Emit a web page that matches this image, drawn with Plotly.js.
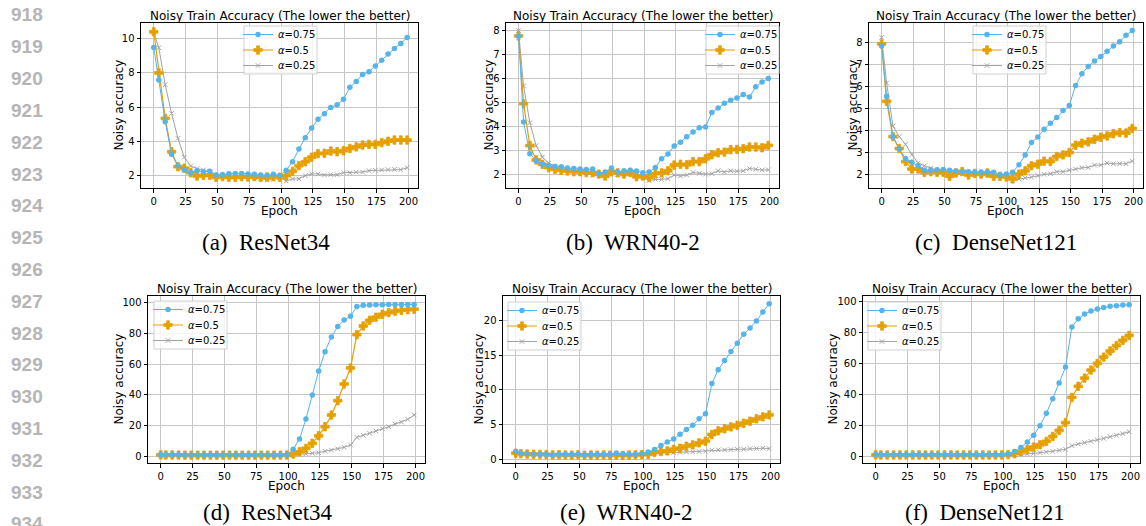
<!DOCTYPE html>
<html><head><meta charset="utf-8">
<script src="https://cdn.plot.ly/plotly-3.0.1.min.js"></script>
<style>html,body{margin:0;padding:0;background:#fff;} #chart{width:1146px;height:526px;}</style>
</head><body><div id="chart"></div>
<script>
// ---------- data ----------
const EPOCHS = [0,4,9,14,19,24,29,34,39,44,49,54,59,64,69,74,79,84,89,94,99,104,109,114,119,124,129,134,139,144,149,154,159,164,169,174,179,184,189,194,199];
const X_TICKS = [0,25,50,75,100,125,150,175,200];
const SERIES_NAMES = ['<i>α</i>=0.75','<i>α</i>=0.5','<i>α</i>=0.25'];
const PANEL_TITLE = 'Noisy Train Accuracy (The lower the better)';
const CAPTIONS = ['(a)  ResNet34','(b)  WRN40-2','(c)  DenseNet121','(d)  ResNet34','(e)  WRN40-2','(f)  DenseNet121'];
const LINE_NUMBERS = ['918','919','920','921','922','923','924','925','926','927','928','929','930','931','932','933','934'];

// (a) ResNet34, top row
const resnet34Top_a075 = [9.48,7.58,5.16,3.26,2.6,2.35,2.2,2.3,2.25,2.28,2.05,2.07,2.13,2.15,2.15,2.12,2.1,2.06,2.02,2.1,2.02,2.33,2.83,3.57,4.23,4.79,5.3,5.62,5.99,6.15,6.46,7.16,7.5,7.91,8.07,8.4,8.74,9.09,9.42,9.71,10.06];
const resnet34Top_a050 = [10.39,8.0,5.35,3.41,2.54,2.45,2.19,2.0,2.04,2.04,1.92,1.96,1.92,1.92,1.96,1.94,1.96,1.92,1.94,1.96,1.92,2.02,2.27,2.6,2.83,3.09,3.3,3.32,3.45,3.41,3.47,3.6,3.69,3.8,3.84,3.84,3.94,4.02,4.09,4.09,4.09];
const resnet34Top_a025 = [10.33,9.46,7.31,5.64,4.19,3.09,2.58,2.43,2.35,2.25,2.06,2.02,1.96,2.0,1.96,1.96,1.9,1.84,1.77,1.8,1.92,1.71,1.83,1.83,2.02,2.12,2.12,2.06,2.08,2.08,2.19,2.19,2.23,2.23,2.31,2.33,2.35,2.37,2.39,2.37,2.48];
// (b) WRN40-2, top row
const wrnTop_a075 = [7.78,4.19,2.86,2.57,2.43,2.36,2.33,2.32,2.26,2.24,2.22,2.2,2.22,2.04,2.1,2.26,2.1,2.15,2.17,2.14,2.07,2.1,2.29,2.65,2.85,3.18,3.34,3.57,3.77,3.95,3.98,4.58,4.77,4.97,5.09,5.19,5.33,5.23,5.66,5.86,6.0];
const wrnTop_a050 = [7.78,4.95,3.2,2.6,2.42,2.28,2.21,2.17,2.14,2.11,2.11,2.07,2.07,2.01,1.93,2.11,2.06,2.01,2.08,1.9,1.93,1.87,2.03,2.06,2.15,2.39,2.42,2.4,2.53,2.53,2.65,2.82,2.9,2.93,3.03,3.04,3.07,3.14,3.14,3.11,3.21];
const wrnTop_a025 = [8.0,5.69,4.16,3.2,2.72,2.47,2.33,2.28,2.21,2.18,2.13,2.07,1.96,1.99,2.01,2.07,1.99,2.0,2.01,1.94,1.87,1.74,1.79,1.79,1.82,1.97,1.93,1.97,2.08,2.04,2.01,2.03,2.15,2.1,2.15,2.13,2.15,2.24,2.21,2.18,2.19];
// (c) DenseNet121, top row
const denseTop_a075 = [7.86,5.57,3.74,3.18,2.75,2.58,2.42,2.22,2.22,2.24,2.25,2.21,2.18,2.15,2.15,2.13,2.12,2.13,2.12,2.01,2.04,2.12,2.46,2.91,3.47,3.72,4.07,4.34,4.61,4.92,5.15,6.06,6.59,6.92,7.17,7.37,7.61,7.85,8.04,8.33,8.55];
const denseTop_a050 = [7.94,5.34,3.74,3.2,2.61,2.27,2.27,2.12,2.15,2.12,2.12,1.94,2.09,2.16,2.0,2.07,2.04,2.09,1.94,1.94,1.91,1.82,2.04,2.19,2.42,2.49,2.63,2.61,2.84,2.91,3.02,3.35,3.44,3.5,3.62,3.71,3.77,3.87,3.92,3.9,4.11];
const denseTop_a025 = [8.24,6.17,4.22,3.74,3.39,2.93,2.54,2.42,2.31,2.22,2.16,2.12,2.09,2.06,2.04,2.04,2.01,2.0,1.97,1.97,1.94,1.75,1.82,1.87,1.9,1.97,2.03,2.06,2.15,2.15,2.22,2.27,2.33,2.34,2.45,2.45,2.54,2.51,2.51,2.51,2.63];
// (d) ResNet34, bottom row
const resnet34Bot_a075 = [1.1,1.0,1.0,1.0,0.9,0.9,0.9,0.9,0.9,0.9,0.9,0.9,0.9,0.9,0.9,0.9,0.9,0.9,0.9,0.9,1.0,4.6,11.3,24.3,39.9,55.5,68.1,77.7,84.4,88.7,91.1,97.4,98.3,98.5,98.6,98.6,98.7,98.7,98.7,98.8,98.8];
const resnet34Bot_a050 = [1.0,0.9,0.9,0.9,0.8,0.8,0.8,0.8,0.8,0.8,0.8,0.8,0.8,0.8,0.8,0.8,0.8,0.8,0.8,0.8,0.9,1.5,3.0,5.2,8.5,13.4,19.3,26.9,36.2,47.1,57.5,79.2,84.8,88.5,90.5,92.4,93.5,94.4,95.0,95.4,95.7];
const resnet34Bot_a025 = [0.8,0.7,0.7,0.7,0.7,0.7,0.7,0.7,0.7,0.7,0.7,0.7,0.7,0.7,0.7,0.7,0.7,0.7,0.7,0.7,0.7,0.9,1.3,1.7,2.0,2.4,3.3,4.1,5.0,5.9,7.4,12.4,13.7,15.0,16.5,18.0,19.3,21.0,22.3,24.1,26.9];
// (e) WRN40-2, bottom row
const wrnBot_a075 = [1.1,0.87,0.82,0.77,0.72,0.67,0.62,0.67,0.67,0.67,0.72,0.62,0.67,0.67,0.67,0.67,0.87,0.77,0.72,0.72,0.82,1.0,1.39,1.97,2.5,2.93,3.6,4.28,4.9,5.82,6.54,10.9,12.9,14.2,15.5,16.7,18.0,18.9,19.9,21.2,22.4];
const wrnBot_a050 = [0.87,0.8,0.75,0.72,0.7,0.68,0.62,0.65,0.62,0.6,0.64,0.58,0.62,0.6,0.62,0.6,0.6,0.55,0.62,0.64,0.66,0.72,1.0,1.1,1.2,1.44,1.59,1.88,2.07,2.36,2.6,3.56,4.09,4.38,4.66,4.9,5.19,5.48,5.82,6.1,6.39];
const wrnBot_a025 = [0.9,0.75,0.7,0.68,0.65,0.62,0.6,0.6,0.6,0.58,0.6,0.58,0.58,0.58,0.58,0.58,0.6,0.58,0.6,0.6,0.62,0.77,0.87,0.91,0.91,0.96,1.0,1.06,1.06,1.1,1.15,1.3,1.35,1.35,1.39,1.44,1.44,1.54,1.54,1.59,1.54];
// (f) DenseNet121, bottom row
const denseBot_a075 = [1.2,1.1,1.0,1.0,1.0,1.0,1.0,1.0,1.0,1.0,1.0,1.0,1.0,1.0,1.0,1.0,1.0,1.0,1.0,1.0,1.1,1.7,3.2,5.8,9.3,13.6,19.8,27.8,37.3,47.4,57.8,83.6,89.0,92.0,94.0,95.3,96.3,97.0,97.4,97.8,98.1];
const denseBot_a050 = [1.0,0.9,0.9,0.9,0.9,0.9,0.9,0.9,0.9,0.9,0.9,0.9,0.9,0.9,0.9,0.9,0.9,0.9,0.9,0.9,0.9,1.1,1.7,3.0,4.5,6.0,7.5,9.7,12.9,16.8,21.8,38.1,45.3,50.6,55.8,60.1,64.2,68.1,71.6,75.0,78.2];
const denseBot_a025 = [0.8,0.7,0.7,0.7,0.7,0.7,0.7,0.7,0.7,0.7,0.7,0.7,0.7,0.7,0.7,0.7,0.7,0.7,0.7,0.7,0.7,0.9,1.1,1.3,1.5,1.9,2.4,2.8,3.2,3.9,4.5,6.9,8.0,8.8,9.7,10.6,11.6,12.7,13.6,14.7,15.9];

// ---------- layout config (pixels) ----------
const W = 1146, H = 526;
const px = v => v / W, py = v => 1 - v / H;
const FONT = 'DejaVu Sans, sans-serif';
// box: [left, right, top, bottom] of plot area; legBox: [left, top] of legend frame
const panels = [
  {data:[resnet34Top_a075,resnet34Top_a050,resnet34Top_a025], box:[141,418,23,188], yr:[1.3,10.9], dtick:2, ylabX:118, legBox:[244,26], cap:{x:266,y:242,anchor:'middle'}},
  {data:[wrnTop_a075,wrnTop_a050,wrnTop_a025], box:[506,779,23,188], yr:[1.43,8.32], dtick:1, ylabX:488, legBox:[706,26], cap:{x:633,y:242,anchor:'middle'}},
  {data:[denseTop_a075,denseTop_a050,denseTop_a025], box:[869,1143,23,188], yr:[1.41,8.89], dtick:1, ylabX:852, legBox:[973,26], cap:{x:996,y:242,anchor:'middle'}},
  {data:[resnet34Bot_a075,resnet34Bot_a050,resnet34Bot_a025], box:[148,425,296,463], yr:[-4.3,104.3], dtick:20, ylabX:118, legBox:[154,301], cap:{x:268,y:526,anchor:'bottom'}},
  {data:[wrnBot_a075,wrnBot_a050,wrnBot_a025], box:[503,780,296,463], yr:[-0.54,23.5], dtick:5, ylabX:478, legBox:[508,302], cap:{x:626,y:526,anchor:'bottom'}},
  {data:[denseBot_a075,denseBot_a050,denseBot_a025], box:[863,1140,296,463], yr:[-4.3,103.7], dtick:20, ylabX:832, legBox:[868,302], cap:{x:985,y:526,anchor:'bottom'}}
];
const EPOCH_DY = 23;
const LEG_W = 73, LEG_H = 48, LEG_ROWS = [8.5, 24, 39.5], LEG_TEXT_DX = 34, PLOTLY_TEXT_GAP = 40;
const STYLES = [
  {color:'#56B4E9', width:1, marker:{symbol:'circle', size:5.5, color:'#56B4E9'}},
  {color:'#E69F00', width:1.2, marker:{symbol:'cross', size:7, color:'#E69F00', line:{color:'#E69F00', width:0.8}}},
  {color:'#a3a3a3', width:1, marker:{symbol:'x-thin', size:4.5, color:'#a3a3a3', line:{color:'#a3a3a3', width:1}}}
];

const traces = [], annotations = [], shapes = [];
const layout = {
  width: W, height: H, margin:{l:0,r:0,t:0,b:0},
  paper_bgcolor:'#ffffff', plot_bgcolor:'#ffffff',
  font:{family:FONT, color:'#000'}, showlegend:true
};

panels.forEach((p, i) => {
  const k = i + 1, sfx = k === 1 ? '' : String(k);
  const [l, r, t, b] = p.box;
  const [lx, ly] = p.legBox;
  // legend frame (drawn above the lines, like a matplotlib legend)
  shapes.push({type:'rect', xref:'paper', yref:'paper', layer:'above',
    x0:px(lx), x1:px(lx + LEG_W), y0:py(ly + LEG_H), y1:py(ly),
    fillcolor:'rgba(255,255,255,0.8)', line:{color:'#d0d0d0', width:1}});
  // draw order: gray, orange, blue (blue on top)
  [2,1,0].forEach(s => {
    const st = STYLES[s];
    const n = i * 3 + s + 1;
    const legName = n === 1 ? 'legend' : 'legend' + n;
    traces.push({
      type:'scatter', mode:'lines+markers', x: EPOCHS, y: p.data[s], name: SERIES_NAMES[s],
      xaxis:'x'+sfx, yaxis:'y'+sfx, legend: legName,
      line:{color:st.color, width:st.width}, marker: st.marker
    });
    layout[legName] = {
      x: px(lx + LEG_TEXT_DX - PLOTLY_TEXT_GAP), xanchor:'left',
      y: py(ly + LEG_ROWS[s]), yanchor:'middle', xref:'paper', yref:'paper',
      bgcolor:'rgba(0,0,0,0)', borderwidth:0,
      font:{family:FONT, size:10, color:'#000'}, itemwidth:30
    };
  });
  const axCommon = {
    showgrid:true, gridcolor:'#c6c6c6', gridwidth:1, zeroline:false,
    showline:true, mirror:true, linecolor:'#000', linewidth:1,
    ticks:'outside', ticklen:3.5, tickwidth:1, tickcolor:'#000',
    tickfont:{family:FONT, size:10, color:'#000'}, fixedrange:true
  };
  layout['xaxis'+sfx] = Object.assign({}, axCommon, {
    domain:[px(l), px(r)], anchor:'y'+sfx, range:[-10, 207.5],
    tickmode:'array', tickvals:X_TICKS, ticktext:X_TICKS.map(String)
  });
  layout['yaxis'+sfx] = Object.assign({}, axCommon, {
    domain:[py(b), py(t)], anchor:'x'+sfx, range:p.yr, tick0:0, dtick:p.dtick
  });
  const cx = (l + r) / 2, cy = (t + b) / 2;
  annotations.push({text:PANEL_TITLE, x:px(cx), y:py(t - 7.5), xref:'paper', yref:'paper', xanchor:'center', yanchor:'middle', showarrow:false, font:{family:FONT, size:12, color:'#000'}});
  annotations.push({text:'Epoch', x:px(cx), y:py(b + EPOCH_DY), xref:'paper', yref:'paper', xanchor:'center', yanchor:'middle', showarrow:false, borderpad:0, font:{family:FONT, size:12, color:'#000'}});
  annotations.push({text:'Noisy accuracy', x:px(p.ylabX), y:py(cy), xref:'paper', yref:'paper', xanchor:'center', yanchor:'middle', textangle:-90, showarrow:false, font:{family:FONT, size:12, color:'#000'}});
  annotations.push({text:CAPTIONS[i], x:px(p.cap.x), y:py(p.cap.y), xref:'paper', yref:'paper', xanchor:'center', yanchor:p.cap.anchor, showarrow:false, borderpad:0, font:{family:'Liberation Serif, Times New Roman, serif', size:23, color:'#000'}});
});

LINE_NUMBERS.forEach((n, i) => {
  annotations.push({text:n, x:px(9), y:py(15 + 31.8 * i), xref:'paper', yref:'paper', xanchor:'left', yanchor:'middle', showarrow:false, font:{family:'Liberation Sans, Arial, sans-serif', size:19, color:'#b5b5b5', weight:'bold'}});
});
layout.annotations = annotations;
layout.shapes = shapes;

Plotly.newPlot('chart', traces, layout, {staticPlot:true, displayModeBar:false});
</script>
</body></html>
